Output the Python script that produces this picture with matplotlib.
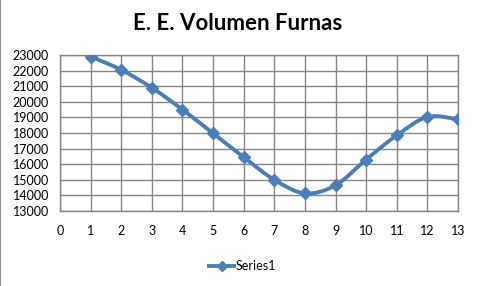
import matplotlib.pyplot as plt
from matplotlib.path import Path
from matplotlib.patches import PathPatch
from matplotlib.lines import Line2D
from matplotlib.ticker import MultipleLocator

plt.rcParams['font.family'] = ['Lato', 'DejaVu Sans']

# data
months = [1, 2, 3, 4, 5, 6, 7, 8, 9, 10, 11, 12, 13]
volume = [22900, 22050, 20900, 19500, 17980, 16450, 15000, 14130, 14650,
          16300, 17850, 19030, 18880]
series_name = 'Series1'
title = 'E. E. Volumen Furnas'

blue = '#4A7EBB'
grid_gray = '#868686'


def smooth_path(xs, ys):
    # Catmull-Rom style bezier, like a spreadsheet "smoothed line"
    pts = list(zip(xs, ys))
    verts = [pts[0]]
    codes = [Path.MOVETO]
    n = len(pts)
    for i in range(n - 1):
        p0 = pts[i - 1] if i > 0 else pts[i]
        p1 = pts[i]
        p2 = pts[i + 1]
        p3 = pts[i + 2] if i + 2 < n else pts[i + 1]
        c1 = (p1[0] + (p2[0] - p0[0]) / 6, p1[1] + (p2[1] - p0[1]) / 6)
        c2 = (p2[0] - (p3[0] - p1[0]) / 6, p2[1] - (p3[1] - p1[1]) / 6)
        verts += [c1, c2, p2]
        codes += [Path.CURVE4] * 3
    return Path(verts, codes)


fig = plt.figure(figsize=(4.78, 2.86), dpi=100)
ax = fig.add_axes([60 / 478, 1 - 211 / 286, 398 / 478, 156 / 286])

ax.set_xlim(0, 13)
ax.set_ylim(13000, 23000)
ax.xaxis.set_major_locator(MultipleLocator(1))
ax.yaxis.set_major_locator(MultipleLocator(1000))
ax.grid(True, color=grid_gray, linewidth=1.0)
ax.set_axisbelow(True)
for s in ax.spines.values():
    s.set_color(grid_gray)
    s.set_linewidth(1.0)
ax.tick_params(length=0, labelsize=9, pad=8)
ax.tick_params(axis='x', pad=10)

ax.add_patch(PathPatch(smooth_path(months, volume), facecolor='none',
                       edgecolor=blue, linewidth=2.8, capstyle='round', zorder=3))
ax.plot(months, volume, linestyle='none', marker='D', markersize=6.5,
        color=blue, zorder=4)

fig.text(0.498, 1 - 23 / 286, title, ha='center', va='center',
         fontsize=16, fontweight='bold')

handle = Line2D([], [], color=blue, linewidth=2.8, marker='D', markersize=5.5)
fig.legend([handle], [series_name], loc='center', frameon=False,
           bbox_to_anchor=(0.507, 1 - 266 / 286), fontsize=9,
           handlelength=2.0, handletextpad=0.1)

# left edge border of the chart box
fig.add_artist(Line2D([0.001, 0.001], [0, 1], color='#8c8c8c', linewidth=1.5,
                      transform=fig.transFigure))

fig.savefig('out.png', dpi=100)
